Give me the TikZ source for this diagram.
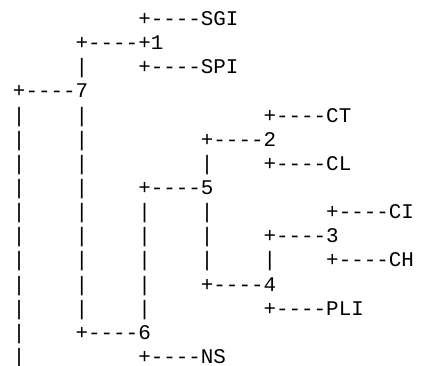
\documentclass[tikz,border=0pt]{standalone}
\usepackage{fontspec}
\newfontfamily\treefont{Liberation Mono}

\begin{document}
\begin{tikzpicture}[x=12.53pt, y=-24.14pt,
  lbl/.style={font=\treefont\fontsize{20.88}{24}\selectfont, inner sep=0pt, anchor=base west}]
  \useasboundingbox (-1.02,-1.056) rectangle ++(423pt,-366pt);
  \node[lbl] (sgi) at (10,0) {+----SGI};
  \node[lbl] (n1) at (5,1) {+----+1};
  \node[lbl] (spi) at (10,2) {+----SPI};
  \node[lbl] (n7) at (0,3) {+----7};
  \node[lbl] (ct) at (20,4) {+----CT};
  \node[lbl] (n2) at (15,5) {+----2};
  \node[lbl] (cl) at (20,6) {+----CL};
  \node[lbl] (n5) at (10,7) {+----5};
  \node[lbl] (ci) at (25,8) {+----CI};
  \node[lbl] (n3) at (20,9) {+----3};
  \node[lbl] (ch) at (25,10) {+----CH};
  \node[lbl] (n4) at (15,11) {+----4};
  \node[lbl] (pli) at (20,12) {+----PLI};
  \node[lbl] (n6) at (5,13) {+----6};
  \node[lbl] (ns) at (10,14) {+----NS};
  % vertical bars
  \foreach \c/\a/\b in {0/4/14, 5/2/2, 5/4/12, 10/8/12, 15/6/6, 15/8/10, 20/10/10}
    \foreach \r in {\a,...,\b}
      \node[lbl] (bar\c-\r) at (\c,\r) {|};
\end{tikzpicture}
\end{document}
